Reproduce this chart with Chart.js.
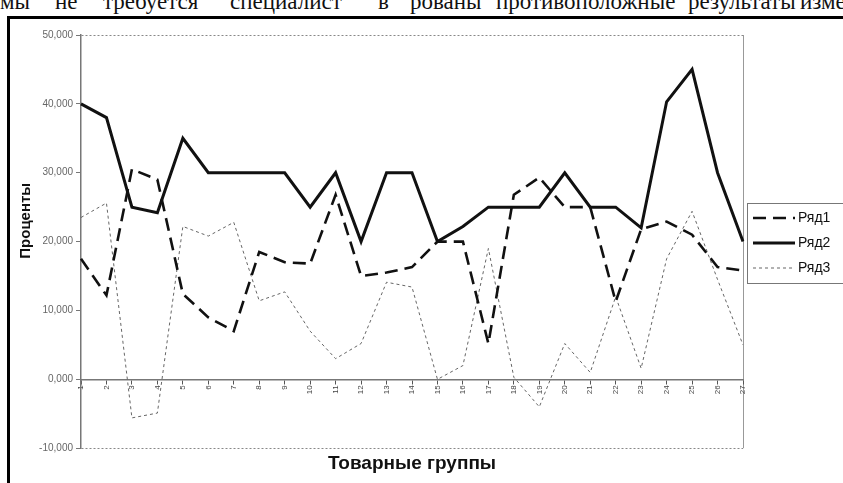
<!DOCTYPE html>
<html>
<head>
<meta charset="utf-8">
<script src="https://cdn.jsdelivr.net/npm/chart.js@4.4.1/dist/chart.umd.min.js"></script>
<style>
html, body { margin: 0; padding: 0; background: #fff; overflow: hidden; }
body { width: 843px; height: 483px; position: relative; }
.page-text span { position: absolute; top: -11px; line-height: 25px; font-family: 'Liberation Serif', serif; font-size: 23px; color: #111; white-space: nowrap; }
.frame { position: absolute; left: 7px; top: 16px; width: 900px; height: 520px; border: 3px solid #000; }
.chart-box { position: absolute; left: 0; top: 0; width: 843px; height: 483px; }
</style>
</head>
<body>
<div class="page-text" id="pageText"></div>
<div class="frame"></div>
<div class="chart-box"><canvas id="myChart"></canvas></div>
<script>
// scanned page, only the lower half of the line above the figure is visible
const pageWords = [['мы', 0], ['не', 55], ['требуется', 103], ['специалист', 230], ['в', 378],
    ['рованы', 410], ['противоположные', 496], ['результаты', 688], ['изменения', 800]];
const pageText = document.getElementById('pageText');
pageWords.forEach(([w, x]) => {
    const s = document.createElement('span');
    s.textContent = w;
    s.style.left = x + 'px';
    pageText.appendChild(s);
});

const categories = ['1', '2', '3', '4', '5', '6', '7', '8', '9', '10', '11', '12', '13', '14',
    '15', '16', '17', '18', '19', '20', '21', '22', '23', '24', '25', '26', '27'];
const ryad1 = [17.5, 12.2, 30.5, 29.0, 12.4, 9.0, 7.0, 18.5, 17.0, 16.8, 26.8, 15.0, 15.5, 16.3,
    20.0, 20.0, 5.2, 26.8, 29.3, 25.0, 25.0, 11.3, 21.8, 22.9, 21.0, 16.3, 15.8];
const ryad2 = [40, 38, 25, 24.2, 35, 30, 30, 30, 30, 25, 30, 20, 30, 30,
    20, 22.2, 25, 25, 25, 30, 25, 25, 22, 40.3, 45, 30, 20];
const ryad3 = [23.5, 25.6, -5.6, -4.9, 22.2, 20.8, 22.8, 11.4, 12.7, 7.0, 3.0, 5.2, 14.1, 13.4,
    0.0, 2.0, 19.0, 0.3, -4.0, 5.2, 1.0, 12.0, 1.6, 17.5, 24.4, 14.5, 5.0];
const seriesNames = ['Ряд1', 'Ряд2', 'Ряд3'];
const yTickLabels = ['-10,000', '0,000', '10,000', '20,000', '30,000', '40,000', '50,000'];

const mainFont = "'Liberation Sans', Arial, sans-serif";
Chart.defaults.font.family = mainFont;

// legend drawn as a framed box like the Excel one, cut by the page edge
const legendBox = {
    id: 'legendBox',
    afterDraw(chart) {
        const ctx = chart.ctx;
        const left = chart.chartArea.right + 4;
        const top = 203, bottom = 283;
        const rows = [218, 243, 268];
        ctx.save();
        ctx.strokeStyle = '#777';
        ctx.lineWidth = 1;
        ctx.strokeRect(left + 0.5, top + 0.5, 200, bottom - top);
        chart.data.datasets.forEach((ds, i) => {
            ctx.beginPath();
            ctx.setLineDash(ds.borderDash || []);
            ctx.lineWidth = ds.borderWidth;
            ctx.strokeStyle = ds.borderColor;
            ctx.moveTo(left + 6, rows[i]);
            ctx.lineTo(left + 48, rows[i]);
            ctx.stroke();
            ctx.setLineDash([]);
            ctx.fillStyle = '#111';
            ctx.font = '14px ' + mainFont;
            ctx.textBaseline = 'middle';
            ctx.fillText(ds.label, left + 51, rows[i]);
        });
        ctx.restore();
    }
};

const ctx = document.getElementById('myChart');

new Chart(ctx, {
    type: 'line',
    data: {
        labels: categories,
        datasets: [{
            label: seriesNames[0],
            data: ryad1,
            borderColor: '#111',
            borderWidth: 2.6,
            borderDash: [13, 7]
        }, {
            label: seriesNames[1],
            data: ryad2,
            borderColor: '#111',
            borderWidth: 3
        }, {
            label: seriesNames[2],
            data: ryad3,
            borderColor: '#666',
            borderWidth: 1,
            borderDash: [3, 3]
        }]
    },
    options: {
        responsive: true,
        maintainAspectRatio: false,
        animation: false,
        layout: {
            padding: { left: 17, right: 100, top: 35, bottom: 2 }
        },
        elements: {
            point: { radius: 0 },
            line: { tension: 0 }
        },
        plugins: {
            legend: { display: false },
            tooltip: { enabled: false },
            title: {
                display: true,
                position: 'bottom',
                fullSize: false,
                text: 'Товарные группы',
                color: '#111',
                font: { size: 19, weight: 'bold' },
                padding: { top: 4, bottom: 6 }
            }
        },
        scales: {
            x: {
                position: { y: 0 },
                offset: false,
                grid: {
                    color: c => c.index === categories.length - 1 ? '#999' : 'transparent',
                    tickColor: '#555',
                    tickLength: 4
                },
                border: { color: '#777', width: 1.5 },
                ticks: {
                    minRotation: 90,
                    maxRotation: 90,
                    autoSkip: false,
                    color: '#444',
                    font: { size: 8 },
                    padding: 2
                },
                afterFit: s => { s.height = 0; }
            },
            y: {
                min: -10,
                max: 50,
                ticks: {
                    stepSize: 10,
                    callback: (v, i) => yTickLabels[i],
                    color: '#666',
                    font: { size: 10 },
                    padding: 3
                },
                grid: {
                    color: c => (c.tick.value === -10 || c.tick.value === 50) ? '#888' : 'transparent',
                    tickColor: '#777',
                    tickLength: 5
                },
                border: { color: '#777', width: 1.5, dash: [2, 2] },
                title: {
                    display: true,
                    // leading blanks lift the rotated title to where Excel put it
                    text: '\u00a0'.repeat(10) + 'Проценты',
                    color: '#111',
                    font: { size: 15, weight: 'bold' },
                    padding: { top: 0, bottom: 4 }
                },
                afterFit: s => { s.width = 64; }
            }
        }
    },
    plugins: [legendBox]
});
</script>
</body>
</html>
